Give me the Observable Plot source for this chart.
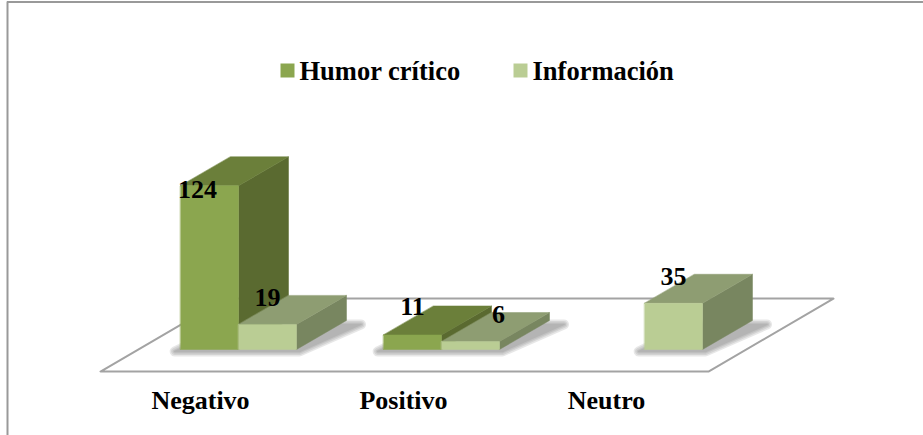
<!DOCTYPE html>
<html><head><meta charset="utf-8">
<script src="https://cdn.jsdelivr.net/npm/d3@7"></script>
<script src="https://cdn.jsdelivr.net/npm/@observablehq/plot@0.6"></script>
<style>html,body{margin:0;background:#fff}svg{display:block}</style>
</head><body>
<div id="chart"></div>
<script>
const categories = ["Negativo", "Positivo", "Neutro"];
const seriesNames = ["Humor crítico", "Información"];
const humorCritico = [124, 11, null];
const informacion = [19, 6, 35];

// Chart geometry, in scale units (x: one bar width; y: one count)
const groupStep = 3.5, depthX = 0.862, depthY = 22;
const faceColors = [
  {front: "#8ba64f", top: "#6b7f3a", side: "#5a6a30"},
  {front: "#bacd94", top: "#8e9d72", side: "#788660"}
];
const labelNudge = {
  "0-0": [-12, 4], "1-0": [0, -27],
  "0-1": [0, -28], "1-1": [28, -27],
  "1-2": [0, -27]
};
const poly = (pts) => pts.map(([x, y]) => ({x, y}));
const marks = [];

// floor
const floorX0 = -1.379, floorX1 = 9.103, floorY = -16.7, floorDX = 2.155, floorDY = 55.3;
marks.push(Plot.line(poly([[floorX0, floorY], [floorX1, floorY], [floorX1 + floorDX, floorY + floorDY], [floorX0 + floorDX, floorY + floorDY]]),
  {x: "x", y: "y", curve: "linear-closed", stroke: "#a3a3a3", strokeWidth: 2}));

const bars = [];
[humorCritico, informacion].forEach((values, s) => values.forEach((v, c) => {
  if (v != null) bars.push({s, c, v, x: c * groupStep + s});
}));

// soft shadows on the floor, one per group of bars, feathered with layered strokes
categories.forEach((_, c) => {
  const group = bars.filter((b) => b.c === c);
  const xL = d3.min(group, (b) => b.x), xR = d3.max(group, (b) => b.x) + 1;
  const shape = poly([[xL - 0.1, -1.5], [xR + 0.05, -1.5], [xR + 0.25 + depthX, depthY - 3], [xL + depthX, depthY - 3]]);
  for (const strokeWidth of [10, 7, 4, 1.5]) {
    marks.push(Plot.line(shape, {x: "x", y: "y", curve: "linear-closed", fill: "#707070", stroke: "#707070",
      strokeWidth, strokeLinejoin: "round", opacity: 0.16}));
  }
});

// boxes
for (const b of bars) {
  const col = faceColors[b.s], x0 = b.x, x1 = b.x + 1, v = b.v;
  const face = (pts, fill) => Plot.line(poly(pts), {x: "x", y: "y", fill, stroke: fill, strokeWidth: 0.5, curve: "linear-closed"});
  marks.push(face([[x1, 0], [x1 + depthX, depthY], [x1 + depthX, v + depthY], [x1, v]], col.side));
  marks.push(face([[x0, v], [x1, v], [x1 + depthX, v + depthY], [x0 + depthX, v + depthY]], col.top));
  marks.push(face([[x0, 0], [x1, 0], [x1, v], [x0, v]], col.front));
}

// value labels
for (const b of bars) {
  const [dx, dy] = labelNudge[`${b.s}-${b.c}`];
  marks.push(Plot.text([b], {x: d => d.x + 0.5, y: "v", text: d => String(d.v), dx, dy,
    fontFamily: "Liberation Serif", fontWeight: "bold", fontSize: 26, fill: "#000", letterSpacing: "-1px"}));
}

// category axis
marks.push(Plot.axisX({
  ticks: categories.map((_, i) => i * groupStep + 1),
  tickFormat: (d) => categories[Math.round((d - 1) / groupStep)],
  tickSize: 0, anchor: "bottom", dx: -38, dy: -54, label: null,
  fontFamily: "Liberation Serif", fontWeight: "bold", fontSize: 26, fill: "#000"
}));

// legend
seriesNames.forEach((name, i) => {
  const left = [287, 520][i];
  marks.push(Plot.dot([name], {frameAnchor: "top-left", dx: left, dy: 70, symbol: "square", r: 7.9, fill: faceColors[i].front, stroke: "none"}));
  marks.push(Plot.text([name], {frameAnchor: "top-left", text: d => d, dx: left + 12, dy: 71, textAnchor: "start", lineAnchor: "middle",
    fontFamily: "Liberation Serif", fontWeight: "bold", fontSize: 26.5, fill: "#000"}));
});

// page frame
const xLeft = (7 - 180) / 58, yTop = (349 - 1.5) / 1.32;
marks.unshift(
  Plot.ruleX([xLeft], {y1: yTop, y2: -65.15, stroke: "#999", strokeWidth: 2}),
  Plot.ruleY([yTop], {x1: xLeft, x2: 12.81, stroke: "#999", strokeWidth: 2})
);

const chart = Plot.plot({
  width: 923, height: 435,
  margin: 0,
  x: {type: "linear", domain: [-180 / 58, 743 / 58], range: [0, 923]},
  y: {type: "linear", axis: null, domain: [-86 / 1.32, 349 / 1.32], range: [435, 0]},
  style: {background: "#fff", overflow: "hidden"},
  marks
});
document.getElementById("chart").append(chart);
</script>
</body></html>
